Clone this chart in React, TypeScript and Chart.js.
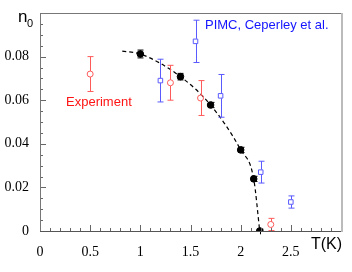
import React, { useEffect, useRef } from "react";
import { Chart, registerables } from "chart.js";
Chart.register(...registerables);

// Fitted dashed curve
const fitT = [0.82, 1.0, 1.4, 1.7, 2.0, 2.13, 2.19];
const fitN = [0.0825, 0.0812, 0.0708, 0.0578, 0.0372, 0.0239, 0.0];
// Black points
const bkT = [1.0, 1.4, 1.7, 2.0, 2.13, 2.19];
const bkN = [0.0812, 0.0708, 0.0578, 0.0372, 0.0239, 0.0];
const bkErr = [0.0018, 0.0015, 0.0012, 0.0012, 0.0012, 0.0008];
// Experiment
const expT = [0.5, 1.3, 1.6, 2.3];
const expN = [0.072, 0.068, 0.061, 0.003];
const expErr = [0.008, 0.008, 0.008, 0.0028];
// PIMC, Ceperley et al.
const pimcT = [1.2, 1.55, 1.8, 2.2, 2.5];
const pimcN = [0.069, 0.087, 0.062, 0.027, 0.0133];
const pimcErr = [0.0098, 0.0097, 0.0098, 0.005, 0.0028];

const X_MIN = 0, X_MAX = 3, Y_MIN = 0, Y_MAX = 0.1;

const RED = "rgb(255,90,90)";
const BLUE = "rgb(90,90,255)";

const toXY = (xs: number[], ys: number[]) => xs.map((x, i) => ({ x, y: ys[i] }));

const errorBars = {
  id: "errorBars",
  afterDatasetsDraw(chart: any) {
    const { ctx, scales } = chart;
    const xs = scales.x, ys = scales.y;
    const sets: [number[], number[], number[], string, number][] = [
      [expT, expN, expErr, RED, 3],
      [pimcT, pimcN, pimcErr, BLUE, 2.5],
      [bkT, bkN, bkErr, "#000", 3.3],
    ];
    ctx.save();
    ctx.lineWidth = 1;
    for (const [T, N, E, c, g] of sets) {
      ctx.strokeStyle = c;
      T.forEach((t, i) => {
        const px = Math.round(xs.getPixelForValue(t)) + 0.5;
        const top = ys.getPixelForValue(Math.min(N[i] + E[i], Y_MAX));
        const bot = ys.getPixelForValue(Math.max(N[i] - E[i], Y_MIN));
        const py = ys.getPixelForValue(N[i]);
        ctx.beginPath();
        ctx.moveTo(px, top);
        ctx.lineTo(px, py - g);
        ctx.moveTo(px, py + g);
        ctx.lineTo(px, bot);
        ctx.moveTo(px - 3, top);
        ctx.lineTo(px + 3, top);
        ctx.moveTo(px - 3, bot);
        ctx.lineTo(px + 3, bot);
        ctx.stroke();
      });
    }
    ctx.restore();
  },
};

const frame = {
  id: "frame",
  afterDraw(chart: any) {
    const { ctx, chartArea: a, scales } = chart;
    const xs = scales.x, ys = scales.y;
    ctx.save();
    ctx.lineWidth = 1;
    // ticks
    ctx.strokeStyle = "#666";
    ctx.beginPath();
    for (let i = 0; i <= 30; i++) {
      const v = i * 0.1;
      const px = Math.round(xs.getPixelForValue(v)) + 0.5;
      const len = i % 5 === 0 ? 6 : 3;
      ctx.moveTo(px, a.bottom);
      ctx.lineTo(px, a.bottom - len);
    }
    for (let i = 0; i <= 20; i++) {
      const v = i * 0.005;
      const py = Math.round(ys.getPixelForValue(v)) + 0.5;
      const len = i % 4 === 0 ? 6 : 3;
      ctx.moveTo(a.left, py);
      ctx.lineTo(a.left + len, py);
    }
    ctx.stroke();
    // borders
    ctx.strokeStyle = "#777";
    ctx.beginPath();
    ctx.moveTo(a.left + 0.5, a.bottom);
    ctx.lineTo(a.left + 0.5, a.top + 0.5);
    ctx.lineTo(a.right, a.top + 0.5);
    ctx.stroke();
    ctx.strokeStyle = "#555";
    ctx.beginPath();
    ctx.moveTo(a.left, a.bottom + 0.5);
    ctx.lineTo(a.right, a.bottom + 0.5);
    ctx.stroke();
    ctx.strokeStyle = "#bbb";
    ctx.lineWidth = 2;
    ctx.beginPath();
    ctx.moveTo(a.right + 1, a.top);
    ctx.lineTo(a.right + 1, a.bottom + 1);
    ctx.stroke();
    // texts
    ctx.fillStyle = "#000";
    ctx.textBaseline = "alphabetic";
    ctx.textAlign = "left";
    ctx.font = "17px 'Liberation Sans', Arial, sans-serif";
    ctx.fillText("n", 18, 22);
    ctx.font = "11px 'Liberation Sans', Arial, sans-serif";
    ctx.fillText("0", 27, 27);
    ctx.font = "16px 'Liberation Sans', Arial, sans-serif";
    ctx.fillText("T(K)", 311, 249);
    ctx.font = "13px 'Liberation Sans', Arial, sans-serif";
    ctx.fillStyle = "rgb(255,20,20)";
    ctx.fillText("Experiment", 66, 106);
    ctx.fillStyle = "rgb(20,20,255)";
    ctx.fillText("PIMC, Ceperley et al.", 205, 29);
    ctx.restore();
  },
};

export default function App() {
  const ref = useRef<HTMLCanvasElement | null>(null);
  useEffect(() => {
    if (!ref.current) return;
    const chart = new Chart(ref.current, {
      type: "scatter",
      data: {
        datasets: [
          {
            type: "line",
            data: toXY(fitT, fitN),
            borderColor: "#000",
            borderWidth: 1.2,
            borderDash: [4, 3],
            pointRadius: 0,
            cubicInterpolationMode: "monotone",
            fill: false,
            order: 3,
          } as any,
          {
            data: toXY(bkT, bkN),
            backgroundColor: "#000",
            borderColor: "#000",
            pointRadius: 3.3,
            pointStyle: "circle",
            order: 0,
          },
          {
            data: toXY(expT, expN),
            backgroundColor: "rgba(0,0,0,0)",
            borderColor: RED,
            borderWidth: 1,
            pointRadius: 3,
            pointStyle: "circle",
            order: 1,
          },
          {
            data: toXY(pimcT, pimcN),
            backgroundColor: "rgba(0,0,0,0)",
            borderColor: BLUE,
            borderWidth: 1,
            pointRadius: 3.2,
            pointStyle: "rect",
            order: 2,
          },
        ],
      },
      options: {
        animation: false,
        responsive: false,
        maintainAspectRatio: false,
        layout: { padding: { top: 13, right: 11, left: 0, bottom: 0 } },
        plugins: { legend: { display: false }, tooltip: { enabled: false } },
        scales: {
          x: {
            type: "linear",
            min: X_MIN,
            max: X_MAX,
            grid: { display: false },
            border: { display: false },
            ticks: {
              stepSize: 0.5,
              padding: 5,
              color: "#000",
              font: { family: "'Liberation Serif', serif", size: 14 },
              callback: (v: any) => (v >= 2.99 ? "" : String(v)),
            },
            afterFit: (s: any) => {
              s.height = 41;
            },
          },
          y: {
            type: "linear",
            min: Y_MIN,
            max: Y_MAX,
            grid: { display: false },
            border: { display: false },
            ticks: {
              stepSize: 0.02,
              padding: 3,
              color: "#000",
              font: { family: "'Liberation Serif', serif", size: 14 },
              callback: (v: any) => (v >= 0.099 ? "" : String(Math.round(v * 100) / 100)),
            },
            afterFit: (s: any) => {
              s.width = 40;
            },
          },
        },
      },
      plugins: [errorBars, frame],
    });
    return () => chart.destroy();
  }, []);
  return (
    <div style={{ position: "absolute", left: 0, top: 0, width: 352, height: 272, background: "#fff" }}>
      <canvas ref={ref} width={352} height={272} style={{ width: 352, height: 272 }} />
    </div>
  );
}
